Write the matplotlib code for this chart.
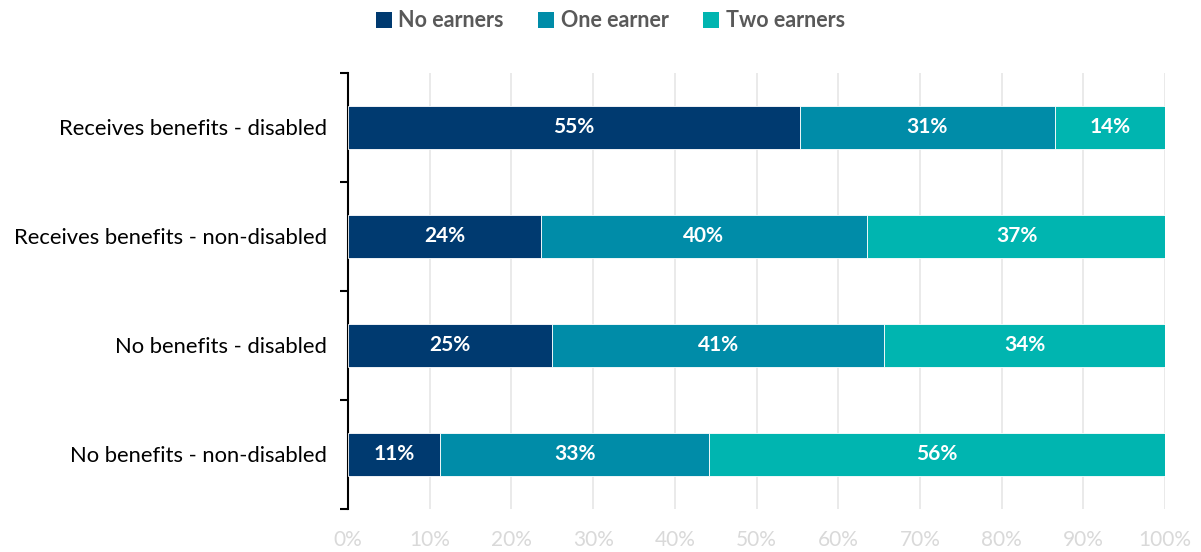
import matplotlib

matplotlib.use("Agg")
import matplotlib.pyplot as plt
from matplotlib.patches import Patch
from matplotlib.ticker import FixedLocator

categories = [
    "Receives benefits - disabled",
    "Receives benefits - non-disabled",
    "No benefits - disabled",
    "No benefits - non-disabled",
]
series_names = ["No earners", "One earner", "Two earners"]
no_earners = [55.3, 23.6, 25.0, 11.3]
one_earner = [31.2, 39.9, 40.6, 32.9]
two_earners = [13.5, 36.6, 34.4, 55.8]
colors = ["#003a70", "#008ca8", "#00b5b0"]
xticks = [0, 10, 20, 30, 40, 50, 60, 70, 80, 90, 100]

plt.rcParams["font.family"] = ["Lato", "DejaVu Sans"]

fig = plt.figure(figsize=(12.01, 5.52), dpi=100)
ax = fig.add_axes([0.2898, 0.0779, 0.6804, 0.7899])

ypos = list(range(len(categories)))
left = [0.0] * len(categories)
for name, vals, col in zip(series_names, [no_earners, one_earner, two_earners], colors):
    bars = ax.barh(ypos, vals, left=left, height=0.40, color=col,
                   edgecolor="white", linewidth=0.6, zorder=3)
    for bar, v in zip(bars, vals):
        ax.text(bar.get_x() + bar.get_width() / 2, bar.get_y() + bar.get_height() / 2,
                f"{int(v + 0.5)}%", ha="center", va="center", color="white",
                fontsize=15, fontweight="bold", zorder=4)
    left = [l + v for l, v in zip(left, vals)]

ax.set_xlim(0, 100)
ax.set_ylim(len(categories) - 0.5, -0.5)
ax.set_xticks(xticks)
ax.set_xticklabels([f"{t}%" for t in xticks], color="#d9d9d9", fontsize=15)
ax.tick_params(axis="x", length=0, pad=15)
ax.grid(axis="x", color="#e6e6e6", linewidth=1.2, zorder=0)

ax.set_yticks(ypos)
ax.set_yticklabels(categories, fontsize=15.8, color="black")
ax.yaxis.set_minor_locator(FixedLocator([i - 0.5 for i in range(len(categories) + 1)]))
ax.tick_params(axis="y", which="major", length=0, pad=15)
ax.tick_params(axis="y", which="minor", length=6, width=1.5, color="black")

for side in ["top", "right", "bottom"]:
    ax.spines[side].set_visible(False)
ax.spines["left"].set_linewidth(1.5)

handles = [Patch(facecolor=c, label=n) for n, c in zip(series_names, colors)]
leg = fig.legend(handles=handles, loc="center", bbox_to_anchor=(0.508, 0.962), ncol=3,
                 frameon=False, handlelength=0.75, handleheight=0.75, handletextpad=0.3,
                 columnspacing=1.6, prop={"weight": "bold", "size": 15.5})
for t in leg.get_texts():
    t.set_color("#595959")

fig.savefig("out.png", dpi=100)
